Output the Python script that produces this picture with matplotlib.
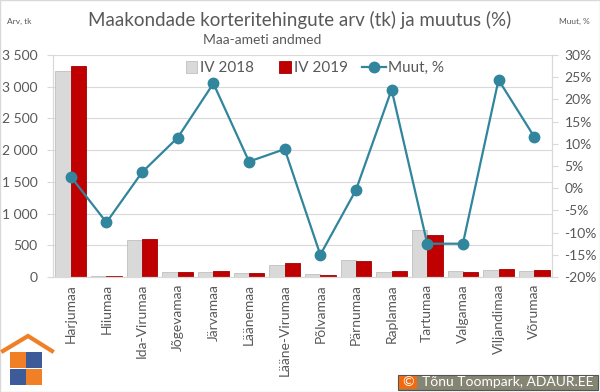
import matplotlib
matplotlib.use("Agg")
import matplotlib.pyplot as plt
import numpy as np
from matplotlib.patches import Rectangle
from matplotlib.legend_handler import HandlerPatch
from matplotlib.lines import Line2D
import matplotlib.ticker as mticker

categories = ["Harjumaa", "Hiiumaa", "Ida-Virumaa", "Jõgevamaa", "Järvamaa", "Läänemaa",
              "Lääne-Virumaa", "Põlvamaa", "Pärnumaa", "Raplamaa", "Tartumaa", "Valgamaa",
              "Viljandimaa", "Võrumaa"]
iv2018 = [3250, 20, 584, 80, 80, 63, 194, 47, 268, 74, 741, 100, 110, 100]
iv2019 = [3333, 10, 600, 80, 95, 65, 216, 36, 257, 90, 657, 79, 131, 105]
muut = [2.6, -7.7, 3.6, 11.4, 23.6, 6.0, 8.8, -15.0, -0.4, 22.2, -12.5, -12.5, 24.4, 11.6]

plt.rcParams['font.family'] = ['Lato', 'DejaVu Sans']
TXT = "#595959"
GRID = "#d9d9d9"
C18 = "#d9d9d9"
C19 = "#c00000"
CL = "#31859c"

fig = plt.figure(figsize=(6, 3.92), dpi=100)
ax = fig.add_axes([53/600, 1-277/392, (552-53)/600, (277-55)/392])
ax2 = ax.twinx()

x = np.arange(len(categories))
w = 0.43
ax.bar(x - w/2, iv2018, w, color=C18, edgecolor="#bfbfbf", linewidth=0.6, label="IV 2018", zorder=2)
ax.bar(x + w/2, iv2019, w, color=C19, edgecolor="#a00000", linewidth=0.6, label="IV 2019", zorder=2)
ax.set_xlim(-0.5, len(categories) - 0.5)
ax.set_ylim(0, 3500)
ax.set_yticks(np.arange(0, 3501, 500))
ax.yaxis.set_major_formatter(mticker.FuncFormatter(lambda v, p: f"{int(v):,}".replace(",", " ")))
ax.grid(axis="y", color=GRID, linewidth=0.8, zorder=0)
ax.set_axisbelow(True)
ax.set_xticks(x)
ax.set_xticklabels(categories, rotation=90, fontsize=10, color=TXT)
ax.tick_params(axis="x", length=0, pad=5)
ax.tick_params(axis="y", colors=GRID, labelcolor=TXT, labelsize=10, length=4, pad=7)

ax2.plot(x, muut, color=CL, linewidth=1.6, marker="o", markersize=7.5, label="Muut, %", zorder=3)
ax2.set_ylim(-20, 30)
ax2.set_yticks(np.arange(-20, 31, 5))
ax2.yaxis.set_major_formatter(mticker.FuncFormatter(lambda v, p: f"{int(round(v))}%"))
ax2.tick_params(axis="y", colors=GRID, labelcolor=TXT, labelsize=10, length=4, pad=5)

for a in (ax, ax2):
    a.spines["top"].set_visible(False)
    for s in ("left", "right", "bottom"):
        a.spines[s].set_color(GRID)
        a.spines[s].set_linewidth(0.8)

class SquareHandler(HandlerPatch):
    def create_artists(self, legend, orig_handle, xdescent, ydescent, width, height, fontsize, trans):
        s = height * 1.1
        p = Rectangle((width - s - 1, -ydescent + (height - s) / 2), s, s,
                      facecolor=orig_handle.get_facecolor(), edgecolor=orig_handle.get_edgecolor(),
                      linewidth=0.6, transform=trans)
        return [p]

h1 = Rectangle((0, 0), 1, 1, facecolor=C18, edgecolor="#bfbfbf")
h2 = Rectangle((0, 0), 1, 1, facecolor=C19, edgecolor="#a00000")
h3 = Line2D([], [], color=CL, linewidth=1.6, marker="o", markersize=7.5)
leg = fig.legend([h1, h2, h3], ["IV 2018", "IV 2019", "Muut, %"], ncol=3, frameon=False,
                 loc="center", bbox_to_anchor=(0.515, 1-68/392), fontsize=11,
                 handlelength=1.6, handletextpad=0.1, columnspacing=0.9,
                 handler_map={Rectangle: SquareHandler()}, labelcolor=TXT)

fig.text(0.5, 1-20/392, "Maakondade korteritehingute arv (tk) ja muutus (%)", ha="center", va="center",
         fontsize=13.5, color=TXT)
fig.text(0.437, 1-40/392, "Maa-ameti andmed", ha="center", va="center", fontsize=10, color=TXT)
fig.text(7/600, 1-21/392, "Arv, tk", ha="left", va="center", fontsize=6, color=TXT)
fig.text(590/600, 1-21/392, "Muut, %", ha="right", va="center", fontsize=6, color=TXT)

# border
fig.patches.append(Rectangle((0, 0), 1, 1, transform=fig.transFigure, fill=False,
                             edgecolor=GRID, linewidth=1.0))

# logo
def fx(px):
    return px / 600
def fy(py):
    return 1 - py / 392
OR = "#f07f26"
BL = "#3d5a99"
fig.lines.append(Line2D([fx(3), fx(28), fx(52)], [fy(351), fy(336), fy(351)], color=OR,
                        linewidth=3, transform=fig.transFigure, solid_joinstyle="miter"))
for (x0, y0, c) in [(10, 352, OR), (26, 352, BL), (10, 369, BL), (26, 369, OR)]:
    fig.patches.append(Rectangle((fx(x0), fy(y0 + 16)), 16/600, 16/392, transform=fig.transFigure,
                                 facecolor=c, edgecolor="none"))

# copyright box
fig.patches.append(Rectangle((fx(398), fy(390)), 200/600, 15/392, transform=fig.transFigure,
                             facecolor="#858573", edgecolor="#555555", linewidth=0.8))
fig.patches.append(Rectangle((fx(399), fy(389)), 18/600, 13/392, transform=fig.transFigure,
                             facecolor="#f26a10", edgecolor="none"))
fig.text(fx(408), fy(382.5), "©", ha="center", va="center", fontsize=10, color="white")
fig.text(fx(508), fy(382.5), "Tõnu Toompark, ADAUR.EE", ha="center", va="center",
         fontsize=10, color="white")

fig.savefig("out.png", dpi=100)
